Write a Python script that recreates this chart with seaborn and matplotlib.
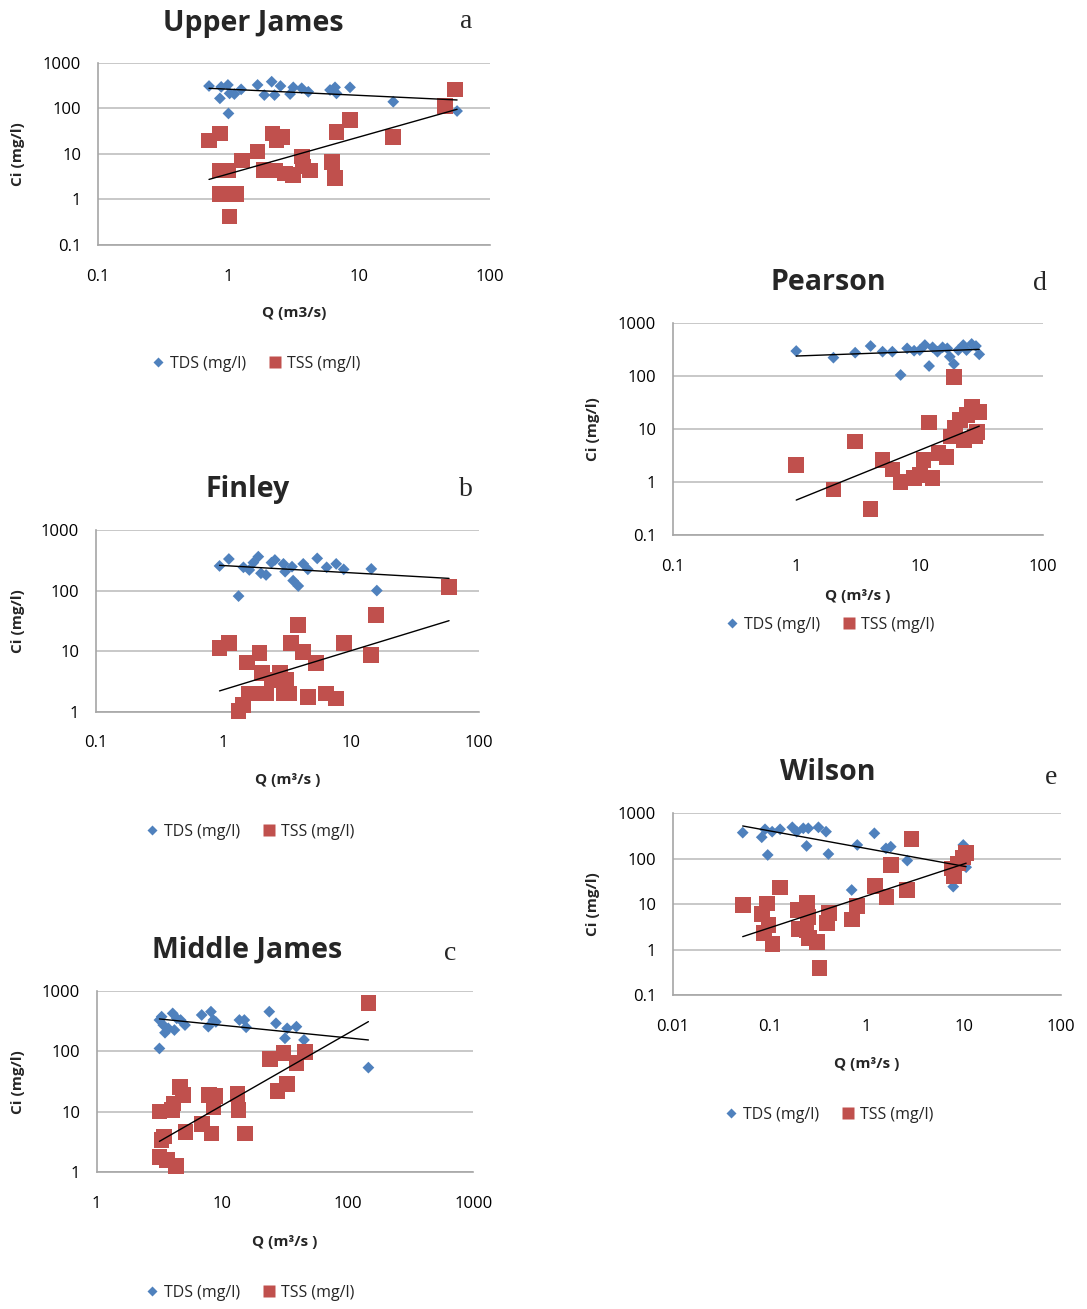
import numpy as np
import pandas as pd
import matplotlib
matplotlib.use("Agg")
import matplotlib.pyplot as plt
from matplotlib.ticker import LogLocator, FuncFormatter, NullLocator
from matplotlib.lines import Line2D
import seaborn as sns

W, H, DPI = 1087, 1309, 100

# ---------------- Upper James ----------------
uj_q_tds = [0.71, 0.86, 0.88, 0.99, 1.0, 1.02, 1.11, 1.25, 1.67, 1.88, 2.14, 2.25, 2.5,
            2.96, 3.13, 3.63, 4.08, 5.98, 6.53, 6.7, 8.5, 18.2, 56]
uj_tds = [308, 165, 295, 325, 77, 212, 205, 260, 325, 195, 383, 195, 308,
          205, 288, 275, 230, 252, 288, 212, 288, 139, 87]
uj_q_tss = [0.71, 0.86, 0.86, 1.0, 0.86, 1.09, 1.15, 1.02, 1.27, 1.67, 1.85, 2.17, 2.33, 2.59,
            2.27, 2.7, 3.13, 3.63, 3.72, 4.2, 6.2, 6.53, 6.7, 8.5, 18.2, 45.3, 54]
uj_tss = [19.5, 28, 4.3, 4.3, 1.3, 1.3, 1.3, 0.42, 7.1, 11.2, 4.4, 28, 20, 23.5,
          4.3, 3.7, 3.4, 8.7, 5.3, 4.3, 6.7, 2.9, 30.6, 55, 23.5, 112, 260]

# ---------------- Finley ----------------
fi_q_tds = [0.93, 1.10, 1.31, 1.43, 1.59, 1.71, 1.87, 1.96, 2.15, 2.37, 2.52, 2.94, 3.03,
            3.43, 3.5, 3.84, 4.2, 4.56, 5.4, 6.4, 7.6, 8.7, 14.3, 15.8]
fi_tds = [255, 332, 81, 242, 219, 289, 363, 193, 181, 289, 320, 276, 205,
          248, 146, 119, 276, 224, 340, 242, 276, 224, 228, 100]
fi_q_tss = [0.93, 1.10, 1.31, 1.42, 1.52, 1.91, 1.57, 1.71, 1.99, 2.17, 2.37, 2.75, 2.94,
            3.10, 3.27, 3.38, 3.84, 4.2, 4.56, 5.27, 6.3, 7.6, 8.7, 14.3, 15.5, 58]
fi_tss = [11.4, 13.5, 1.04, 1.29, 6.5, 9.4, 2.0, 2.0, 4.3, 2.0, 3.3, 4.3, 2.0,
          3.3, 2.0, 13.5, 27, 9.8, 1.73, 6.3, 2.0, 1.66, 13.5, 8.6, 39.5, 113]

# ---------------- Middle James ----------------
mj_q_tds = [3.16, 3.16, 3.29, 3.39, 3.5, 3.72, 4.03, 4.16, 4.34, 4.66, 5.05, 6.86, 7.75,
            8.13, 8.5, 8.9, 13.7, 15.0, 15.5, 23.7, 26.8, 31.6, 32.9, 39, 44.8, 146]
mj_tds = [331, 112, 376, 273, 204, 241, 426, 226, 353, 331, 273, 401, 257,
          455, 331, 308, 331, 331, 251, 455, 292, 165, 241, 257, 155, 54]
mj_q_tss = [3.16, 3.16, 3.29, 3.44, 3.61, 3.96, 4.08, 4.28, 4.6, 4.84, 5.11, 6.86, 7.88,
            8.2, 8.5, 8.75, 13.2, 13.5, 15.2, 24, 27.6, 30.7, 32.9, 39, 45.5, 146]
mj_tss = [10.1, 1.8, 3.4, 3.9, 1.58, 10.7, 13.8, 1.27, 26, 19, 4.7, 6.3, 19,
          4.4, 12.2, 18.2, 20, 10.7, 4.4, 74, 22.4, 93, 28.9, 65, 99, 625]

# ---------------- Pearson ----------------
pe_q_tds = [1.0, 2.0, 3.0, 4.0, 5.0, 6.0, 7.0, 7.9, 9.0, 10.0, 11, 11.9, 12.7,
            13.9, 15.3, 16.7, 17.5, 18.9, 20.5, 22.5, 23.9, 26.3, 28.5, 30.3]
pe_tds = [293, 220, 273, 364, 285, 285, 104, 329, 297, 305, 380, 153, 344,
          285, 344, 329, 229, 167, 305, 380, 305, 398, 364, 254]
pe_q_tss = [1.0, 2.0, 3.0, 4.0, 5.0, 6.0, 7.0, 9.0, 10.0, 10.7, 11.9, 12.7, 14.2,
            16.5, 17.8, 18.9, 19.2, 21.1, 22.7, 24.2, 26.3, 28, 29, 30.3]
pe_tss = [2.1, 0.73, 5.8, 0.31, 2.6, 1.74, 1.02, 1.18, 1.36, 2.6, 13.2, 1.18, 3.5,
          3.0, 7.2, 96, 10.3, 14.8, 6.2, 18.3, 26.3, 7.2, 8.9, 21.2]

# ---------------- Wilson ----------------
wi_q_tds = [0.0527, 0.0828, 0.0895, 0.0954, 0.106, 0.128, 0.171, 0.19, 0.222, 0.24, 0.25,
            0.318, 0.381, 0.403, 0.70, 0.80, 1.2, 1.58, 1.77, 2.62, 7.8, 8.5, 9.9, 10.6]
wi_tds = [375, 297, 444, 121, 394, 444, 492, 394, 467, 191, 467,
          492, 394, 127, 20.5, 201, 363, 169, 184, 91, 24.3, 73, 201, 65]
wi_q_tss = [0.0535, 0.0828, 0.087, 0.094, 0.097, 0.107, 0.128, 0.193, 0.202, 0.244, 0.25,
            0.24, 0.255, 0.306, 0.326, 0.387, 0.41, 0.70, 0.80, 1.22, 1.6, 1.79, 2.62, 2.9,
            7.5, 7.9, 8.7, 9.9, 10.6]
wi_tss = [9.6, 6.1, 2.3, 10.4, 3.5, 1.33, 23.4, 7.4, 2.8, 10.8, 5.3,
          2.7, 1.77, 1.49, 0.39, 3.8, 6.5, 4.6, 9.1, 25, 14.6, 73, 20.5, 268,
          61, 41.7, 79, 107, 136]

# Power-law trend lines C = a * Q**b  (TDS a, TDS b, TSS a, TSS b)
uj_trend = [262.0, -0.135, 3.63, 0.811]
fi_trend = [258.7, -0.120, 2.31, 0.646]
mj_trend = [438.6, -0.209, 0.827, 1.19]
pe_trend = [236.0, 0.0847, 0.46, 0.939]
wi_trend = [167.5, -0.389, 15.2, 0.702]

titles = ["Upper James", "Finley", "Middle James", "Pearson", "Wilson"]
letters = ["a", "b", "c", "d", "e"]
xlabels = ["Q (m3/s)", "Q (m³/s )", "Q (m³/s )", "Q (m³/s )", "Q (m³/s )"]
ylabel = "Ci (mg/l)"
tds_label, tss_label = "TDS (mg/l)", "TSS (mg/l)"

BLUE = "#4F81BD"
RED = "#C0504D"
GRID = "#BFBFBF"
SPINE = "#A6A6A6"

sns.set_theme(style="white")
plt.rcParams["font.family"] = ["Open Sans", "DejaVu Sans"]

fig = plt.figure(figsize=(W / DPI, H / DPI), dpi=DPI)
fig.patch.set_facecolor("white")


def fx(px):
    return px / W


def fy(py):
    return 1 - py / H


# layout: axes box (left, right, top, bottom) in pixels, limits, text anchors
panels = [
    dict(data=(uj_q_tds, uj_tds, uj_q_tss, uj_tss), trend=uj_trend,
         box=(97.7, 490, 62.7, 245), xlim=(0.1, 100), ylim=(0.1, 1000),
         title_xy=(253, 23), letter_xy=(466, 22), ylab_x=18, xlab_y=313, leg_xy=(256, 364)),
    dict(data=(fi_q_tds, fi_tds, fi_q_tss, fi_tss), trend=fi_trend,
         box=(95.7, 479.3, 530, 711.7), xlim=(0.1, 100), ylim=(1, 1000),
         title_xy=(248, 490), letter_xy=(466, 490), ylab_x=18, xlab_y=780, leg_xy=(250, 832)),
    dict(data=(mj_q_tds, mj_tds, mj_q_tss, mj_tss), trend=mj_trend,
         box=(96.7, 473.3, 991, 1172.3), xlim=(1, 1000), ylim=(1, 1000),
         title_xy=(247, 950), letter_xy=(450, 954), ylab_x=18, xlab_y=1242, leg_xy=(250, 1293)),
    dict(data=(pe_q_tds, pe_tds, pe_q_tss, pe_tss), trend=pe_trend,
         box=(672.7, 1043.3, 322.7, 535.3), xlim=(0.1, 100), ylim=(0.1, 1000),
         title_xy=(828, 283), letter_xy=(1040, 284), ylab_x=593, xlab_y=596, leg_xy=(830, 625)),
    dict(data=(wi_q_tds, wi_tds, wi_q_tss, wi_tss), trend=wi_trend,
         box=(672.7, 1060.7, 813.3, 995), xlim=(0.01, 100), ylim=(0.1, 1000),
         title_xy=(828, 772), letter_xy=(1051, 778), ylab_x=593, xlab_y=1064, leg_xy=(829, 1115)),
]

fmt = FuncFormatter(lambda v, _: f"{v:g}")

for i, p in enumerate(panels):
    l, r, t, b = p["box"]
    ax = fig.add_axes([fx(l), fy(b), (r - l) / W, (b - t) / H])
    ax.set_xscale("log")
    ax.set_yscale("log")
    ax.set_xlim(*p["xlim"])
    ax.set_ylim(*p["ylim"])

    q_tds, tds, q_tss, tss = p["data"]
    a1, b1, a2, b2 = p["trend"]

    df_tds = pd.DataFrame({"Q": q_tds, "C": tds})
    df_tss = pd.DataFrame({"Q": q_tss, "C": tss})

    sns.scatterplot(data=df_tds, x="Q", y="C", ax=ax, marker="D", s=36, color=BLUE,
                    edgecolor="none", linewidth=0, clip_on=False, zorder=3, legend=False)
    sns.scatterplot(data=df_tss, x="Q", y="C", ax=ax, marker="s", s=128, color=RED,
                    edgecolor="none", linewidth=0, clip_on=False, zorder=4, legend=False)

    qmin = min(min(q_tds), min(q_tss))
    qmax = max(max(q_tds), max(q_tss))
    qq = np.geomspace(qmin, qmax, 60)
    trend_df = pd.DataFrame({"Q": np.concatenate([qq, qq]),
                             "C": np.concatenate([a1 * qq ** b1, a2 * qq ** b2]),
                             "series": ["TDS"] * len(qq) + ["TSS"] * len(qq)})
    sns.lineplot(data=trend_df, x="Q", y="C", units="series", estimator=None, ax=ax,
                 color="black", linewidth=1.0, zorder=5, legend=False)

    ax.xaxis.set_major_locator(LogLocator(base=10, numticks=12))
    ax.yaxis.set_major_locator(LogLocator(base=10, numticks=12))
    ax.xaxis.set_minor_locator(NullLocator())
    ax.yaxis.set_minor_locator(NullLocator())
    ax.xaxis.set_major_formatter(fmt)
    ax.yaxis.set_major_formatter(fmt)

    ax.grid(axis="y", color=GRID, linewidth=1.2)
    ax.grid(axis="x", visible=False)
    ax.set_axisbelow(True)
    for side in ("top", "right"):
        ax.spines[side].set_visible(False)
    for side in ("left", "bottom"):
        ax.spines[side].set_color(SPINE)
        ax.spines[side].set_linewidth(1.2)
    ax.tick_params(axis="x", direction="out", length=4, width=1, color=SPINE,
                   labelsize=12, pad=13, labelcolor="black")
    ax.tick_params(axis="y", direction="out", length=4, width=1, color=SPINE,
                   labelsize=12, pad=8, labelcolor="black")
    ax.set_xlabel("")
    ax.set_ylabel("")

    # titles, panel letters, axis labels
    fig.text(fx(p["title_xy"][0]), fy(p["title_xy"][1]), titles[i], ha="center", va="center",
             fontsize=20.5, fontweight="bold", family=["Open Sans", "DejaVu Sans"])
    fig.text(fx(p["letter_xy"][0]), fy(p["letter_xy"][1]), letters[i], ha="center", va="center",
             fontsize=20, family=["Liberation Serif", "DejaVu Serif"])
    fig.text(fx((l + r) / 2), fy(p["xlab_y"]), xlabels[i], ha="center", va="center",
             fontsize=11, fontweight="bold")
    fig.text(fx(p["ylab_x"]), fy((t + b) / 2), ylabel, ha="center", va="center",
             rotation=90, fontsize=11, fontweight="bold")

    handles = [Line2D([], [], marker="D", linestyle="none", markersize=5.5,
                      markerfacecolor=BLUE, markeredgecolor="none"),
               Line2D([], [], marker="s", linestyle="none", markersize=8,
                      markerfacecolor=RED, markeredgecolor="none")]
    ax.legend(handles, [tds_label, tss_label], loc="center", ncol=2, frameon=False,
              bbox_to_anchor=(fx(p["leg_xy"][0]), fy(p["leg_xy"][1])),
              bbox_transform=fig.transFigure, fontsize=11.5, handletextpad=0.35,
              columnspacing=1.4, handlelength=0.8, borderpad=0)

fig.savefig("out.png", dpi=DPI, facecolor="white")
